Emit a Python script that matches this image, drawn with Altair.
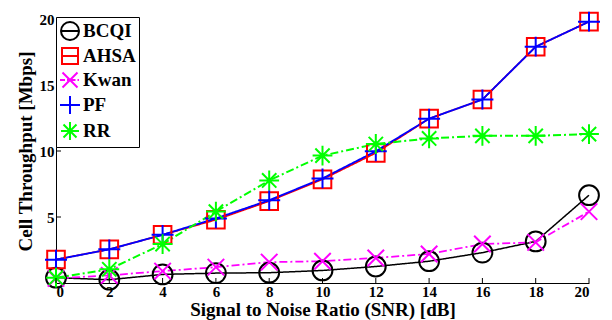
import altair as alt
import pandas as pd

snr = [0, 2, 4, 6, 8, 10, 12, 14, 16, 18, 20]
series_names = ["BCQI", "AHSA", "Kwan", "PF", "RR"]
bcqi = [0.4, 0.25, 0.65, 0.75, 0.78, 0.95, 1.25, 1.65, 2.3, 3.15, 6.65]
ahsa = [1.78, 2.55, 3.65, 4.79, 6.2, 7.85, 9.85, 12.45, 13.9, 17.9, 19.8]
kwan = [0.35, 0.58, 0.9, 1.2, 1.58, 1.65, 1.9, 2.2, 2.95, 3.08, 5.41]
pf = [1.77, 2.55, 3.65, 4.89, 6.27, 7.92, 9.98, 12.45, 13.9, 17.9, 19.8]
rr = [0.4, 1.04, 2.95, 5.41, 7.77, 9.65, 10.53, 10.95, 11.15, 11.15, 11.28]
x_ticks = [0, 2, 4, 6, 8, 10, 12, 14, 16, 18, 20]
y_ticks = [5, 10, 15, 20]

colors = ["#000000", "#FF0000", "#FF00FF", "#0000FF", "#00FF00"]
widths = [1.5, 2, 2, 2.8, 2]
dashes = [[1, 0], [1, 0], [8, 3, 2, 3], [1, 0], [8, 3, 2, 3]]
marker_paths = [
    "M0.9,0A0.9,0.9,0,1,1,-0.9,0A0.9,0.9,0,1,1,0.9,0Z",
    "M-0.8,-0.8L0.8,-0.8L0.8,0.8L-0.8,0.8Z",
    "M-0.75,-0.75L0.75,0.75M-0.75,0.75L0.75,-0.75",
    "M-1,0L1,0M0,-0.9L0,0.9",
    "M-0.9,0L0.9,0M0,-0.9L0,0.9M-0.65,-0.65L0.65,0.65M-0.65,0.65L0.65,-0.65",
]
legend_paths = [
    marker_paths[0] + "M-0.9,0L0.9,0",
    marker_paths[1] + "M-0.8,0L0.8,0",
    marker_paths[2] + "M-1,0L-0.5,0M-0.3,0L-0.15,0M0.05,0L0.55,0M0.75,0L0.9,0",
    marker_paths[3],
    marker_paths[4],
]

values = {"BCQI": bcqi, "AHSA": ahsa, "Kwan": kwan, "PF": pf, "RR": rr}
rows = []
for i, name in enumerate(series_names):
    for x, y in zip(snr, values[name]):
        rows.append({"snr": x, "thr": y, "series": name, "order": i})
df = pd.DataFrame(rows)

FONT = "Liberation Serif, Times New Roman, DejaVu Serif, serif"
xs = alt.Scale(domain=[0, 20], nice=False)
ys = alt.Scale(domain=[0, 20], nice=False)

axis_style = dict(labelFont=FONT, labelFontSize=15, labelFontWeight="bold", labelColor="black",
                  titleFont=FONT, titleFontSize=19, titleFontWeight="bold", titleColor="black",
                  grid=False, domainColor="black", domainWidth=1, tickSize=0)

base = alt.Chart(df)

lines = base.mark_line().encode(
    x=alt.X("snr:Q", scale=xs,
            axis=alt.Axis(values=x_ticks, title="Signal to Noise Ratio (SNR) [dB]",
                          labelPadding=1, titlePadding=1, **axis_style)),
    y=alt.Y("thr:Q", scale=ys,
            axis=alt.Axis(values=y_ticks, title="Cell Throughput [Mbps]",
                          labelPadding=2, titlePadding=4, **axis_style)),
    color=alt.Color("series:N", scale=alt.Scale(domain=series_names, range=colors), legend=None),
    strokeWidth=alt.StrokeWidth("series:N", scale=alt.Scale(domain=series_names, range=widths), legend=None),
    strokeDash=alt.StrokeDash("series:N", scale=alt.Scale(domain=series_names, range=dashes), legend=None),
    order=alt.Order("snr:Q"),
)

points = base.mark_point(filled=False, strokeWidth=2, size=484, opacity=1).encode(
    x=alt.X("snr:Q", scale=xs),
    y=alt.Y("thr:Q", scale=ys),
    color=alt.Color("series:N", scale=alt.Scale(domain=series_names, range=colors), legend=None),
    shape=alt.Shape("series:N", scale=alt.Scale(domain=series_names, range=marker_paths), legend=None),
)

leg = dict(orient="none", legendX=0, legendY=-2, title=None,
           fillColor="white", strokeColor="black", padding=3,
           symbolSize=400, symbolStrokeWidth=2, rowPadding=0,
           labelFont=FONT, labelFontSize=19, labelFontWeight="bold",
           labelColor="black", labelOffset=2)

legend_layer = alt.Chart(pd.DataFrame({"series": series_names})).transform_filter("false").mark_point(
    filled=False, strokeWidth=2, size=400, opacity=1
).encode(
    color=alt.Color("series:N", scale=alt.Scale(domain=series_names, range=colors),
                    legend=alt.Legend(**leg)),
    shape=alt.Shape("series:N", scale=alt.Scale(domain=series_names, range=legend_paths),
                    legend=alt.Legend(**leg)),
)

xtick_df = pd.DataFrame({"v": x_ticks})
ytick_df = pd.DataFrame({"v": y_ticks})
xticks = alt.Chart(xtick_df).mark_rule(color="black", strokeWidth=1).encode(
    x=alt.X("v:Q", scale=xs), y=alt.value(264), y2=alt.value(259))
yticks = alt.Chart(ytick_df).mark_rule(color="black", strokeWidth=1).encode(
    y=alt.Y("v:Q", scale=ys), x=alt.value(0), x2=alt.value(5))

chart = alt.layer(lines, points, xticks, yticks, legend_layer).resolve_scale(
    color="independent", shape="independent"
).properties(
    width=533, height=264,
    padding={"left": 56, "top": 19, "right": 23, "bottom": 37},
    autosize=alt.AutoSizeParams(type="none"),
).configure(font=FONT).configure_view(stroke=None).configure_axis(
    grid=False, domainColor="black", domainWidth=1, tickSize=0,
    labelFont=FONT, labelFontSize=15, labelFontWeight="bold", labelColor="black",
    titleFont=FONT, titleFontSize=19, titleFontWeight="bold", titleColor="black",
)

chart.save("out.html", embed_options={"renderer": "svg", "actions": False})
